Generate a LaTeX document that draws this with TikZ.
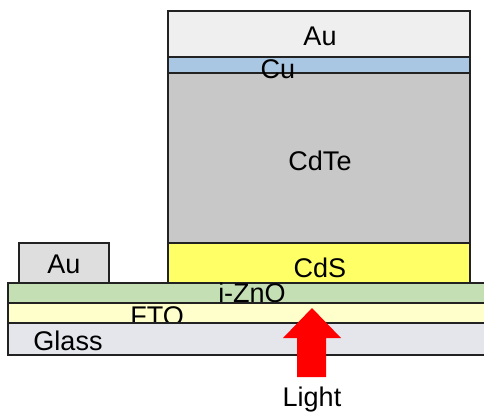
\documentclass[tikz,border=0pt]{standalone}
\usepackage{fontspec}
\setmainfont{Liberation Sans}
\definecolor{auTop}{HTML}{EFEFEF}
\definecolor{auSide}{HTML}{DEDEDE}
\definecolor{cuBlue}{HTML}{A9C6E2}
\definecolor{cdteGray}{HTML}{C8C8C8}
\definecolor{cdsYellow}{HTML}{FFFF66}
\definecolor{znoGreen}{HTML}{C5DFB5}
\definecolor{ftoYellow}{HTML}{FFFFCC}
\definecolor{glassGray}{HTML}{E4E6EC}
\definecolor{edge}{HTML}{222222}
\tikzset{
    layer/.style={draw=edge, line width=1.1pt},
    lbl/.style={anchor=base, inner sep=0pt, font=\fontsize{27}{30}\selectfont}
}
\begin{document}
\begin{tikzpicture}[x=1pt, y=-1pt]
        \useasboundingbox (0,0) rectangle (484,413);
        \clip (0,0) rectangle (484,413);

        % absorber stack
        \draw[layer, fill=auTop] (168,11) rectangle (470,57);
        \node[lbl] (autop) at (320,45) {Au};
        \draw[layer, fill=cuBlue] (168,57) rectangle (470,73);
        \draw[layer, fill=cdteGray] (168,73) rectangle (470,243);
        \node[lbl] (cu) at (278,78) {Cu};
        \node[lbl] (cdte) at (320,170) {CdTe};
        \draw[layer, fill=cdsYellow] (168,243) rectangle (470,283);
        \node[lbl] (cds) at (320,277) {CdS};

        % front contact
        \draw[layer, fill=auSide] (19,243) rectangle (109,283);
        \node[lbl] (auside) at (64,273) {Au};

        % substrate
        \draw[layer, fill=znoGreen] (8,283) rectangle (490,303);
        \node[lbl] (zno) at (252,302) {i-ZnO};
        \draw[layer, fill=ftoYellow] (8,303) rectangle (490,323);
        \node[lbl] (fto) at (157,325) {FTO};
        \draw[layer, fill=glassGray] (8,323) rectangle (490,355);
        \node[lbl] (glass) at (68,350) {Glass};

        % light
        \fill[red] (297,377) -- (297,338) -- (283,338) -- (312,308) -- (341,338) -- (326,338) -- (326,377) -- cycle;
        \node[lbl] (light) at (312,406) {Light};
    \end{tikzpicture}
\end{document}
